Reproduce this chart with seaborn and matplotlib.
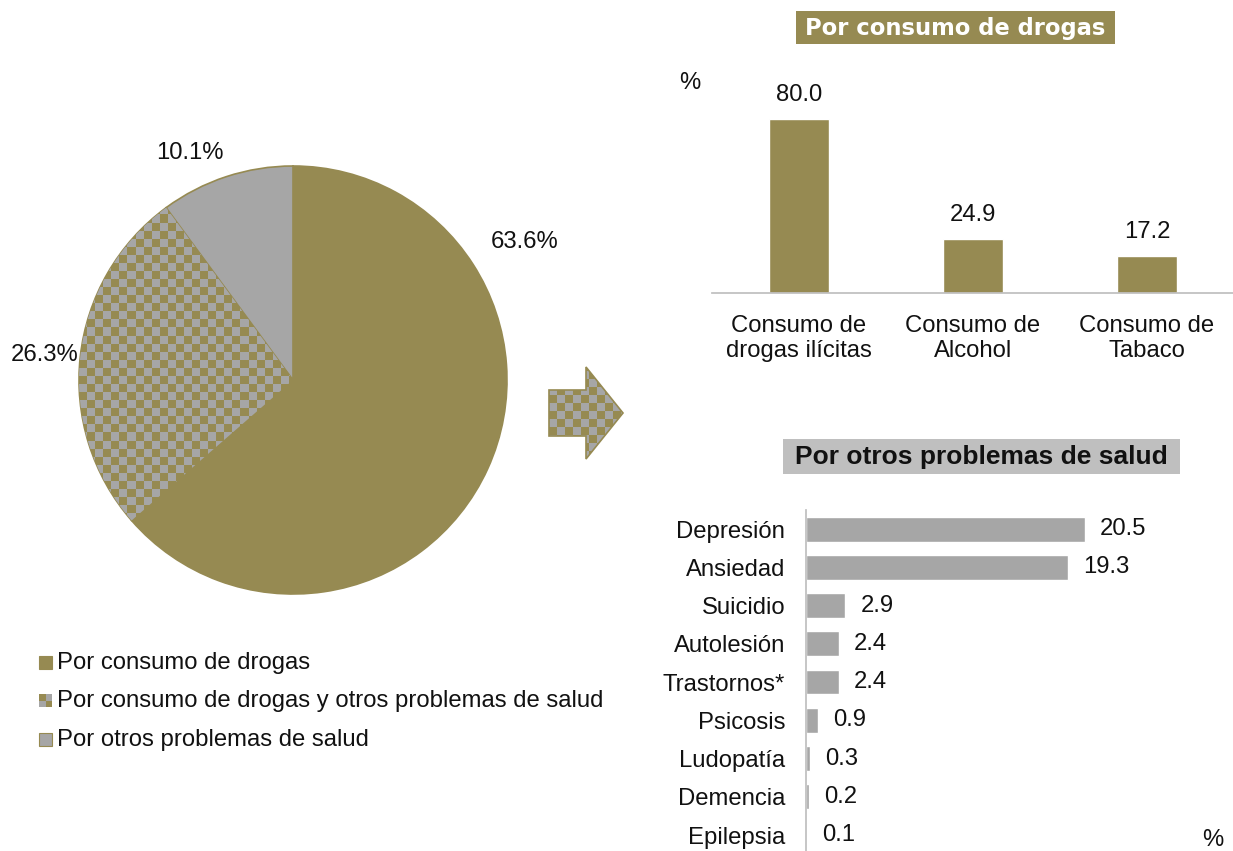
import numpy as np
import pandas as pd
import matplotlib
matplotlib.use("Agg")
import matplotlib.pyplot as plt
from matplotlib import font_manager
from matplotlib.patches import Polygon, Rectangle
import seaborn as sns

# data
pie_labels = ["Por consumo de drogas",
              "Por consumo de drogas y otros problemas de salud",
              "Por otros problemas de salud"]
pie_values = [63.6, 26.3, 10.1]

drug_cats = ["Consumo de\ndrogas ilícitas", "Consumo de\nAlcohol", "Consumo de\nTabaco"]
drug_vals = [80.0, 24.9, 17.2]

health_cats = ["Depresión", "Ansiedad", "Suicidio", "Autolesión", "Trastornos*",
               "Psicosis", "Ludopatía", "Demencia", "Epilepsia"]
health_vals = [20.5, 19.3, 2.9, 2.4, 2.4, 0.9, 0.3, 0.2, 0.1]

OLIVE = "#968A52"
GRAY = "#A6A6A6"
W, H = 1233, 851

sns.set_theme(style="white")
plt.rcParams["font.family"] = ["Liberation Sans", "DejaVu Sans"]

# make sure bold is the regular-width Liberation Sans Bold, not the narrow one
bold_fp = None
for f in font_manager.findSystemFonts():
    if f.endswith("LiberationSans-Bold.ttf"):
        bold_fp = font_manager.FontProperties(fname=f)
        break
if bold_fp is None:
    bold_fp = font_manager.FontProperties(family="Liberation Sans", weight="bold")

fig = plt.figure(figsize=(W / 100, H / 100), dpi=100)


def fbox(x0, y0, x1, y1):
    # pixel box (top-left origin) -> figure rect
    return [x0 / W, 1 - y1 / H, (x1 - x0) / W, (y1 - y0) / H]


def checker(n):
    i, j = np.indices((n, n))
    return (i + j) % 2


cmap = matplotlib.colors.ListedColormap([OLIVE, GRAY])

# ---- pie ----
R = 214
cx, cy = 293, 380
ax_pie = fig.add_axes(fbox(cx - R, cy - R, cx + R, cy + R))
wedges, _ = ax_pie.pie(pie_values, startangle=90, counterclock=False,
                       colors=[OLIVE, GRAY, GRAY], radius=1,
                       wedgeprops=dict(linewidth=1.2, edgecolor=OLIVE))
ax_pie.set_xlim(-1, 1)
ax_pie.set_ylim(-1, 1)
ax_pie.set_aspect("equal")
ax_pie.axis("off")
n_sq = int(2 * R / 8)
img = ax_pie.imshow(checker(n_sq), cmap=cmap, extent=(-1, 1, -1, 1),
                    interpolation="nearest", zorder=1.5)
img.set_clip_path(wedges[1])

# overlay axes in pixel coords for free text / arrow / legend
ov = fig.add_axes([0, 0, 1, 1], zorder=5)
ov.axis("off")
ov.patch.set_alpha(0)

FS = 17.2
TXT = "#111111"
for (x, y, s) in [(525, 242, "63.6%"), (45, 355, "26.3%"), (190, 153, "10.1%")]:
    ov.text(x, y, s, ha="center", va="center", fontsize=FS, color=TXT)

# legend
for k, (lab, yy) in enumerate(zip(pie_labels, [663, 701, 740])):
    if k == 1:
        ov.add_patch(Rectangle((39, yy - 7), 13, 13, facecolor=OLIVE, edgecolor="none"))
        ov.add_patch(Rectangle((39, yy - 0.5), 6.5, 6.5, facecolor=GRAY, edgecolor="none"))
        ov.add_patch(Rectangle((45.5, yy - 7), 6.5, 6.5, facecolor=GRAY, edgecolor="none"))
    else:
        ov.add_patch(Rectangle((39, yy - 7), 13, 13,
                               facecolor=OLIVE if k == 0 else GRAY,
                               edgecolor=OLIVE, linewidth=0.8))
    ov.text(57, yy, lab, ha="left", va="center", fontsize=FS, color=TXT)

# arrow
arrow_pts = [(549, 390), (586, 390), (586, 367), (623, 413),
             (586, 459), (586, 436), (549, 436)]
arr = Polygon(arrow_pts, closed=True, facecolor="none", edgecolor=OLIVE, linewidth=1.2, zorder=3)
ov.add_patch(arr)
aimg = ov.imshow(checker(12), cmap=cmap, extent=(549, 645, 459, 363),
                 interpolation="nearest", zorder=2)
aimg.set_clip_path(arr)

# title boxes
ov.add_patch(Rectangle((796, 11), 319, 33, facecolor=OLIVE, edgecolor="none"))
ov.text(955.5, 28, "Por consumo de drogas", ha="center", va="center", fontsize=16.3,
        fontweight="bold", color="white", family=["DejaVu Sans"])
ov.add_patch(Rectangle((783, 439), 397, 35, facecolor="#BFBFBF", edgecolor="none"))
ov.text(981.5, 457, "Por otros problemas de salud", ha="center", va="center",
        fontproperties=bold_fp, fontsize=19, color=TXT)

ov.text(690, 83, "%", ha="center", va="center", fontsize=FS, color=TXT)
ov.text(1213, 840, "%", ha="center", va="center", fontsize=FS, color=TXT)

ov.set_xlim(0, W)
ov.set_ylim(H, 0)
ov.set_aspect("auto")

# ---- top bar chart ----
ax1 = fig.add_axes(fbox(712, 76, 1234, 293))
df1 = pd.DataFrame({"cat": drug_cats, "val": drug_vals})
sns.barplot(data=df1, x="cat", y="val", color=OLIVE, saturation=1, width=0.345, ax=ax1)
ax1.set_ylim(0, 100)
ax1.set_xlim(-0.5, 2.5)
for i, v in enumerate(drug_vals):
    ax1.text(i, v + 6, f"{v:.1f}", ha="center", va="bottom", fontsize=FS, color=TXT)
sns.despine(ax=ax1, left=True)
ax1.spines["bottom"].set_color("#BFBFBF")
ax1.set_yticks([])
ax1.set_xlabel("")
ax1.set_ylabel("")
ax1.tick_params(axis="x", length=0, labelsize=FS, pad=15.5, labelcolor=TXT)
ax1.patch.set_alpha(0)

# ---- bottom horizontal bar chart ----
ax2 = fig.add_axes(fbox(806, 510, 1214, 851))
df2 = pd.DataFrame({"cat": health_cats, "val": health_vals})
sns.barplot(data=df2, y="cat", x="val", color=GRAY, saturation=1, width=0.65,
            orient="h", ax=ax2)
ax2.set_ylim((851 - 529) / 38.25, -0.5)
ax2.set_xlim(0, 30)
for i, v in enumerate(health_vals):
    ax2.text(v + 1.1, i, f"{v:.1f}", ha="left", va="center", fontsize=FS, color=TXT)
sns.despine(ax=ax2, bottom=True)
ax2.spines["left"].set_color("#BFBFBF")
ax2.set_xticks([])
ax2.set_xlabel("")
ax2.set_ylabel("")
ax2.tick_params(axis="y", length=0, labelsize=FS, pad=15, labelcolor=TXT)
ax2.patch.set_alpha(0)

fig.savefig("out.png", dpi=100)
